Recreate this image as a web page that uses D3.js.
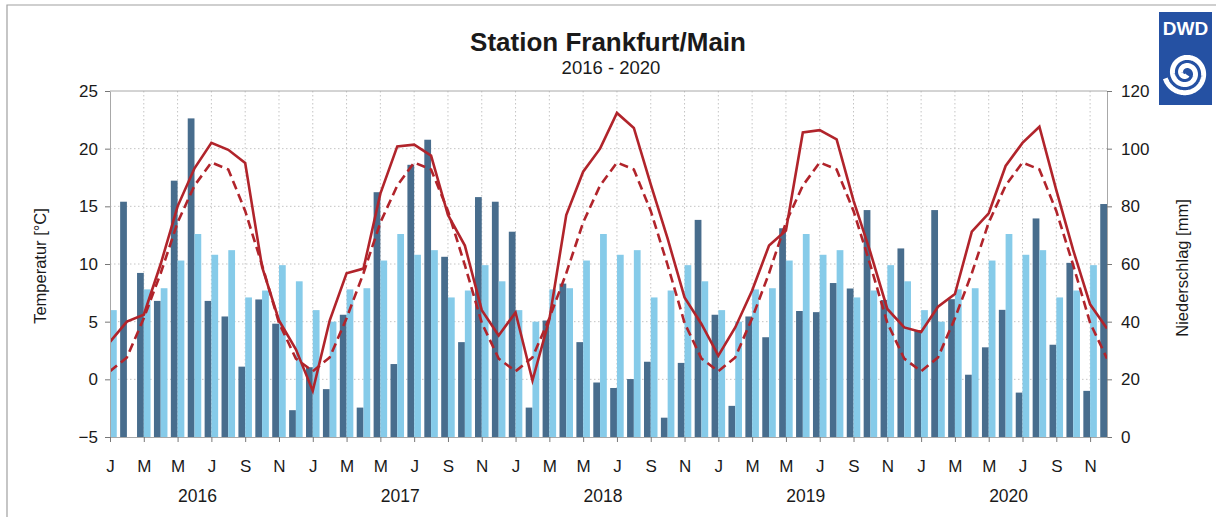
<!DOCTYPE html>
<html><head><meta charset="utf-8">
<script src="https://cdn.jsdelivr.net/npm/d3@7"></script>
<style>
body{margin:0;background:#fff}
svg{display:block}
text{font-family:"Liberation Sans",Arial,sans-serif;fill:#1a1a1a}
</style>
</head><body>
<svg id="chart" width="1216" height="517"></svg>
<script>
// ---------- data ----------
const years = [2016, 2017, 2018, 2019, 2020];
const monthLetters = ["J","F","M","A","M","J","J","A","S","O","N","D"];
const tempTicks = [-5, 0, 5, 10, 15, 20, 25];
const precipTicks = [0, 20, 40, 60, 80, 100, 120];

// monthly precipitation, station values [mm]
const precipActual = [
  45, 81.6, 56.9, 47.2, 88.9, 110.5, 47.2, 41.8, 24.4, 47.7, 39.3, 9.3,
  24.2, 16.6, 42.4, 10.2, 84.9, 25.3, 94.4, 103.1, 62.5, 32.9, 83.2, 81.6,
  71.2, 10.2, 40.4, 53.2, 32.9, 18.9, 17.0, 20.1, 26.1, 6.7, 25.7, 75.3,
  42.4, 10.8, 41.8, 34.6, 72.4, 43.7, 43.3, 53.4, 51.5, 78.7, 47.5, 65.4,
  37.1, 78.7, 47.8, 21.6, 31.1, 44.1, 15.4, 75.8, 32.0, 60.4, 16.0, 80.8
];
// long-term mean precipitation [mm]
const precipNormal = [
  44, null, 51.2, 51.6, 61.2, 70.4, 63.2, 64.8, 48.4, 50.8, 59.6, 54,
  44, 40, 51.2, 51.6, 61.2, 70.4, 63.2, 64.8, 48.4, 50.8, 59.6, 54,
  44, 40, 51.2, 51.6, 61.2, 70.4, 63.2, 64.8, 48.4, 50.8, 59.6, 54,
  44, 40, 51.2, 51.6, 61.2, 70.4, 63.2, 64.8, 48.4, 50.8, 59.6, 54,
  44, 40, 51.2, 51.6, 61.2, 70.4, 63.2, 64.8, 48.4, 50.8, 59.6, 54
];
// monthly mean temperature [°C]
const tempActual = [
  3.25, 5.0, 5.6, 10.0, 15.0, 18.3, 20.5, 19.9, 18.75, 9.75, 5.1, 2.6,
  -1.0, 5.1, 9.2, 9.6, 16.1, 20.2, 20.35, 19.4, 14.25, 11.6, 6.0, 3.8,
  5.8, -0.1, 5.2, 14.25, 18.0, 20.0, 23.1, 21.8, 16.9, 12.2, 7.1, 4.8,
  2.05, 4.5, 7.7, 11.6, 12.9, 21.4, 21.6, 20.8, 15.5, 11.0, 6.1, 4.5,
  4.1, 6.3, 7.4, 12.8, 14.4, 18.5, 20.5, 21.9, 16.4, 11.2, 6.5, 4.4
];
// long-term mean temperature [°C]
const tempNormal = [
  0.7, 1.9, 5.3, 9.2, 13.6, 16.8, 18.8, 18.2, 14.6, 9.9, 4.9, 1.8,
  0.7, 1.9, 5.3, 9.2, 13.6, 16.8, 18.8, 18.2, 14.6, 9.9, 4.9, 1.8,
  0.7, 1.9, 5.3, 9.2, 13.6, 16.8, 18.8, 18.2, 14.6, 9.9, 4.9, 1.8,
  0.7, 1.9, 5.3, 9.2, 13.6, 16.8, 18.8, 18.2, 14.6, 9.9, 4.9, 1.8,
  0.7, 1.9, 5.3, 9.2, 13.6, 16.8, 18.8, 18.2, 14.6, 9.9, 4.9, 1.8
];

// ---------- layout ----------
const months = years.flatMap(y => monthLetters.map((m, i) => y + "-" + (i + 1)));
const rows = months.map((k, i) => ({
  key: k, i, pa: precipActual[i], pn: precipNormal[i], ta: tempActual[i], tn: tempNormal[i]
}));

const L = 110, R = 1107, T = 91, B = 437;
const svg = d3.select("#chart");

const x = d3.scalePoint().domain(months).range([L, R]);
const yT = d3.scaleLinear().domain([-5, 25]).range([B, T]);
const yP = d3.scaleLinear().domain([0, 120]).range([B, T]);
const bw = x.step() * 0.4;

const GRID = "#c4c4c4", AXIS = "#a8a8a8";
const DARK = "#486d8d", LIGHT = "#86cbe9", RED = "#b1242b";

// outer frame
svg.append("path").attr("d", "M7,517V5H1216").attr("fill", "none").attr("stroke", "#a0a0a0").attr("stroke-width", 1.2);

// clip
svg.append("defs").append("clipPath").attr("id", "plot")
  .append("rect").attr("x", L).attr("y", T).attr("width", R - L).attr("height", B - T);

// grid
const tickMonths = months.filter((d, i) => i % 2 === 0);
svg.append("g").selectAll("line").data(tempTicks.filter(t => t > -5 && t < 25)).join("line")
  .attr("x1", L).attr("x2", R).attr("y1", d => yT(d)).attr("y2", d => yT(d))
  .attr("stroke", GRID).attr("stroke-dasharray", "1.5,2.5");
svg.append("g").selectAll("line").data(tickMonths.slice(1)).join("line")
  .attr("x1", d => x(d)).attr("x2", d => x(d)).attr("y1", T).attr("y2", B)
  .attr("stroke", GRID).attr("stroke-dasharray", "1.5,2.5");

// bars
const gb = svg.append("g").attr("clip-path", "url(#plot)");
gb.selectAll("rect.pa").data(rows).join("rect").attr("class", "pa")
  .attr("x", d => x(d.key) - bw).attr("width", bw)
  .attr("y", d => yP(d.pa)).attr("height", d => yP(0) - yP(d.pa))
  .attr("fill", DARK);
gb.selectAll("rect.pn").data(rows.filter(d => d.pn != null)).join("rect").attr("class", "pn")
  .attr("x", d => x(d.key)).attr("width", bw)
  .attr("y", d => yP(d.pn)).attr("height", d => yP(0) - yP(d.pn))
  .attr("fill", LIGHT);

// plot top border
svg.append("line").attr("x1", L).attr("x2", R).attr("y1", T).attr("y2", T).attr("stroke", AXIS);

// lines
const gl = svg.append("g").attr("clip-path", "url(#plot)");
gl.append("path").datum(rows)
  .attr("d", d3.line().x(d => x(d.key)).y(d => yT(d.tn)))
  .attr("fill", "none").attr("stroke", RED).attr("stroke-width", 2.6)
  .attr("stroke-dasharray", "9,5");
gl.append("path").datum(rows)
  .attr("d", d3.line().x(d => x(d.key)).y(d => yT(d.ta)))
  .attr("fill", "none").attr("stroke", RED).attr("stroke-width", 2.6)
  .attr("stroke-linejoin", "miter");

// axes
function styleAxis(g) {
  g.selectAll("path.domain").attr("stroke", AXIS);
  g.selectAll(".tick line").attr("stroke", "#777");
  g.selectAll("text").attr("font-size", "17px").attr("fill", "#1a1a1a")
    .attr("font-family", '"Liberation Sans",Arial,sans-serif');
}
svg.append("g").attr("transform", `translate(${L},0)`)
  .call(d3.axisLeft(yT).tickValues(tempTicks).tickSize(5).tickSizeOuter(0).tickPadding(7))
  .call(styleAxis);
svg.append("g").attr("transform", `translate(${R},0)`)
  .call(d3.axisRight(yP).tickValues(precipTicks).tickSize(5).tickSizeOuter(0).tickPadding(9))
  .call(styleAxis);
svg.append("g").attr("transform", `translate(0,${B})`)
  .call(d3.axisBottom(x).tickValues(tickMonths).tickSize(5).tickSizeOuter(0).tickPadding(18)
    .tickFormat(d => monthLetters[+d.split("-")[1] - 1]))
  .call(styleAxis);

// year labels
svg.append("g").selectAll("text").data(years).join("text")
  .attr("x", (d, i) => x(months[i * 12 + 5]) + 3).attr("y", 502)
  .attr("text-anchor", "middle").attr("font-size", "17.5px").text(d => d);

// axis titles
svg.append("text").attr("transform", "translate(46,266) rotate(-90)")
  .attr("text-anchor", "middle").attr("font-size", "16.5px").text("Temperatur [°C]");
svg.append("text").attr("transform", "translate(1188,268) rotate(-90)")
  .attr("text-anchor", "middle").attr("font-size", "16.5px").text("Niederschlag [mm]");

// titles
svg.append("text").attr("x", 608).attr("y", 51).attr("text-anchor", "middle")
  .attr("font-size", "26px").attr("font-weight", "bold").text("Station Frankfurt/Main");
svg.append("text").attr("x", 611).attr("y", 74).attr("text-anchor", "middle")
  .attr("font-size", "18.5px").text("2016 - 2020");

// DWD logo
const logo = svg.append("g");
logo.append("rect").attr("x", 1159).attr("y", 12).attr("width", 53).attr("height", 93).attr("fill", "#2551a3");
logo.append("text").attr("x", 1185.5).attr("y", 35).attr("text-anchor", "middle")
  .attr("font-size", "19px").attr("font-weight", "bold").style("fill", "#fff").text("DWD");
const sp = [];
for (let k = 0; k <= 300; k++) {
  const t = k / 300 * 2.3 * 2 * Math.PI;
  const r = 2.5 + 8.2 * t / (2 * Math.PI);
  sp.push([1186 + r * Math.cos(t + 1.0), 73 + r * Math.sin(t + 1.0)]);
}
logo.append("path").attr("d", d3.line()(sp)).attr("fill", "none").attr("stroke", "#fff").attr("stroke-width", 5);
</script>
</body></html>
